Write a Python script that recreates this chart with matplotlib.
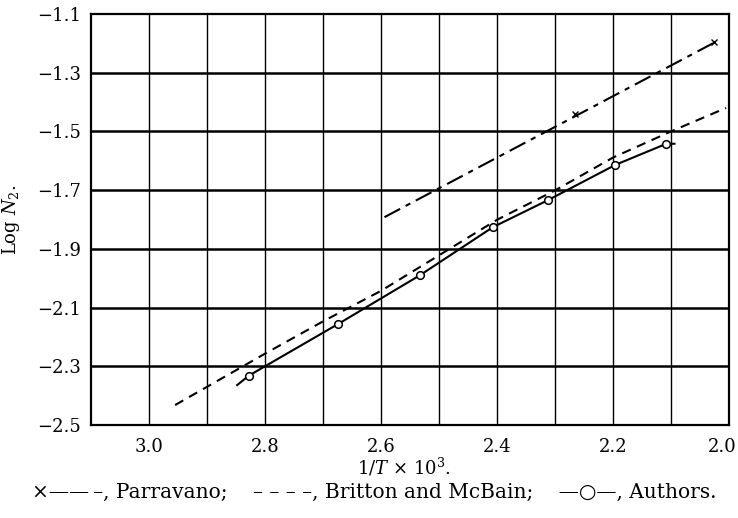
import numpy as np
import matplotlib
matplotlib.use("Agg")
import matplotlib.pyplot as plt
from matplotlib.ticker import FixedLocator, FuncFormatter
from matplotlib.transforms import ScaledTranslation

plt.rcParams['font.family'] = 'DejaVu Serif'
plt.rcParams['mathtext.fontset'] = 'dejavuserif'

# ---- data ----
# Authors: measured points (open circles) and the drawn curve through them
auth_x = [2.828, 2.674, 2.533, 2.407, 2.312, 2.196, 2.108]
auth_y = [-2.332, -2.156, -1.990, -1.826, -1.734, -1.614, -1.542]
auth_curve_x = [2.848, 2.828, 2.674, 2.533, 2.407, 2.312, 2.196, 2.108, 2.094]
auth_curve_y = [-2.364, -2.332, -2.156, -1.990, -1.826, -1.734, -1.614, -1.542, -1.542]

# Britton and McBain: dashed line
bm_x = [2.955, 2.8, 2.7, 2.6, 2.5, 2.4, 2.3, 2.2, 2.1, 2.005]
bm_y = [-2.432, -2.257, -2.147, -2.043, -1.922, -1.801, -1.701, -1.589, -1.500, -1.420]

# Parravano: dash-dot line with crosses
par_line_x = [2.594, 2.025]
par_line_y = [-1.792, -1.197]
par_pts_x = [2.266, 2.025]
par_pts_y = [-1.439, -1.197]

xticks = [3.0, 2.8, 2.6, 2.4, 2.2, 2.0]
yticks = [-1.1, -1.3, -1.5, -1.7, -1.9, -2.1, -2.3, -2.5]
xgrid = [3.0, 2.9, 2.8, 2.7, 2.6, 2.5, 2.4, 2.3, 2.2, 2.1]

fig = plt.figure(figsize=(7.38, 5.18), dpi=100)
ax = fig.add_axes([0.1233, 0.1795, 0.8645, 0.7935])

for gx in xgrid:
    ax.axvline(gx, color='black', lw=1.0, zorder=1)
for gy in yticks[1:-1]:
    ax.axhline(gy, color='black', lw=1.8, zorder=1)

ax.plot(auth_curve_x, auth_curve_y, color='black', lw=1.5, zorder=3)
ax.plot(auth_x, auth_y, 'o', ms=5.5, mfc='white', mec='black', mew=1.1, zorder=4)
ax.plot(bm_x, bm_y, color='black', lw=1.5, dashes=(4.5, 3.2), zorder=3)
ax.plot(par_line_x, par_line_y, color='black', lw=1.5, dashes=(8.5, 3, 2.5, 3), zorder=3)
ax.plot(par_pts_x, par_pts_y, 'x', ms=5, mec='black', mew=1.0, zorder=4)

ax.set_xlim(3.1, 2.0)
ax.set_ylim(-2.5, -1.1)
ax.xaxis.set_major_locator(FixedLocator(xticks))
ax.yaxis.set_major_locator(FixedLocator(yticks))
ax.xaxis.set_major_formatter(FuncFormatter(lambda v, p: f"{v:.1f}"))
ax.yaxis.set_major_formatter(FuncFormatter(lambda v, p: f"{v:.1f}".replace('-', '\u2212')))
ax.tick_params(length=0, labelsize=13)
ax.tick_params(axis='x', pad=9)
ax.tick_params(axis='y', pad=7)
for s in ax.spines.values():
    s.set_linewidth(1.6)

# last x label sits a little inside the figure, as in the print
last = ax.xaxis.get_major_ticks()[-1].label1
last.set_transform(last.get_transform() + ScaledTranslation(-0.07, 0, fig.dpi_scale_trans))

ax.set_xlabel(r"$1/T$ $\times$ $10^3$.", fontsize=13)
ax.xaxis.set_label_coords(0.49, -0.075)
ax.set_ylabel(r"Log $N_2$.", fontsize=13)
ax.yaxis.set_label_coords(-0.108, 0.5)

fig.text(0.507, 0.05,
         "\u00d7\u2014\u2014\u2009\u2013, Parravano;    \u2013 \u2013 \u2013 \u2013, Britton and McBain;    \u2014\u25cb\u2014, Authors.",
         ha='center', va='center', fontsize=14.5)

fig.savefig("out.png", dpi=100)
